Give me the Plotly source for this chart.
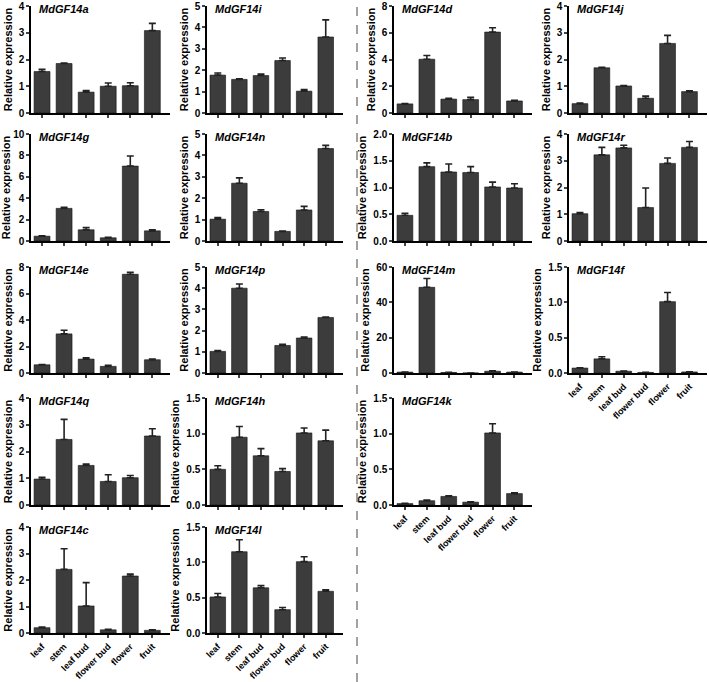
import plotly.graph_objects as go

categories = ["leaf", "stem", "leaf bud", "flower bud", "flower", "fruit"]

genes = ["MdGF14a", "MdGF14i", "MdGF14d", "MdGF14j",
         "MdGF14g", "MdGF14n", "MdGF14b", "MdGF14r",
         "MdGF14e", "MdGF14p", "MdGF14m", "MdGF14f",
         "MdGF14q", "MdGF14h", "MdGF14k",
         "MdGF14c", "MdGF14l"]

val_a = [1.55, 1.85, 0.78, 1.0, 1.02, 3.08]
err_a = [0.08, 0.02, 0.06, 0.12, 0.11, 0.27]
val_i = [1.77, 1.57, 1.75, 2.45, 1.02, 3.55]
err_i = [0.1, 0.03, 0.07, 0.12, 0.08, 0.8]
val_d = [0.68, 4.02, 1.04, 1.0, 6.05, 0.9]
err_d = [0.03, 0.28, 0.05, 0.17, 0.32, 0.05]
val_j = [0.35, 1.69, 1.01, 0.55, 2.6, 0.8]
err_j = [0.02, 0.02, 0.02, 0.08, 0.3, 0.03]
val_g = [0.45, 3.05, 1.05, 0.3, 7.0, 0.95]
err_g = [0.03, 0.1, 0.2, 0.05, 0.95, 0.1]
val_n = [1.02, 2.7, 1.38, 0.45, 1.45, 4.32]
err_n = [0.08, 0.25, 0.08, 0.02, 0.17, 0.15]
val_b = [0.48, 1.39, 1.29, 1.28, 1.01, 0.99]
err_b = [0.04, 0.07, 0.15, 0.11, 0.09, 0.08]
val_r = [1.02, 3.22, 3.48, 1.25, 2.9, 3.5]
err_r = [0.04, 0.28, 0.1, 0.73, 0.2, 0.22]
val_e = [0.62, 2.95, 1.05, 0.5, 7.45, 1.0]
err_e = [0.02, 0.28, 0.1, 0.08, 0.15, 0.05]
val_p = [1.02, 4.0, None, 1.3, 1.65, 2.62]
err_p = [0.04, 0.2, 0, 0.05, 0.05, 0.02]
val_m = [0.5, 48.5, 0.3, 0.0, 1.0, 0.5]
err_m = [0.1, 5.0, 0.1, 0.0, 0.3, 0.1]
val_f = [0.07, 0.2, 0.025, 0.008, 1.01, 0.015]
err_f = [0.005, 0.03, 0.003, 0.002, 0.13, 0.003]
val_q = [0.97, 2.45, 1.48, 0.88, 1.02, 2.58]
err_q = [0.07, 0.75, 0.05, 0.25, 0.08, 0.27]
val_h = [0.5, 0.95, 0.69, 0.47, 1.01, 0.9]
err_h = [0.05, 0.15, 0.1, 0.04, 0.07, 0.15]
val_k = [0.02, 0.06, 0.12, 0.04, 1.01, 0.16]
err_k = [0.005, 0.01, 0.01, 0.005, 0.13, 0.01]
val_c = [0.2, 2.4, 1.02, 0.12, 2.15, 0.1]
err_c = [0.02, 0.78, 0.88, 0.02, 0.07, 0.02]
val_l = [0.51, 1.15, 0.64, 0.33, 1.01, 0.59]
err_l = [0.05, 0.17, 0.03, 0.03, 0.07, 0.02]

values = [val_a, val_i, val_d, val_j, val_g, val_n, val_b, val_r,
          val_e, val_p, val_m, val_f, val_q, val_h, val_k, val_c, val_l]
errors = [err_a, err_i, err_d, err_j, err_g, err_n, err_b, err_r,
          err_e, err_p, err_m, err_f, err_q, err_h, err_k, err_c, err_l]
ymax = [4, 5, 8, 4, 10, 5, 2.0, 4, 8, 5, 60, 1.5, 4, 1.5, 1.5, 4, 1.5]
ydtick = [1, 1, 2, 1, 2, 1, 0.5, 1, 2, 1, 20, 0.5, 1, 0.5, 0.5, 1, 0.5]
yfmt = ["", "", "", "", "", "", ".1f", "", "", "", "", ".1f", "", ".1f", ".1f", "", ".1f"]
pos = [(0, 0), (0, 1), (0, 2), (0, 3),
       (1, 0), (1, 1), (1, 2), (1, 3),
       (2, 0), (2, 1), (2, 2), (2, 3),
       (3, 0), (3, 1), (3, 2),
       (4, 0), (4, 1)]
show_x = [False] * 11 + [True] + [False, False, True, True, True]

W, H = 709, 682
col_px = [(31, 170), (207, 343), (394, 532), (569, 707)]
row_px = [(6, 113), (134, 241), (267, 373), (398, 505), (527, 633)]

FONT = "Liberation Sans, Arial, sans-serif"
BAR = "#3c3c3c"

fig = go.Figure()
annotations = []
for idx, g in enumerate(genes):
    r, c = pos[idx]
    n = idx + 1
    xa = "x" if n == 1 else f"x{n}"
    ya = "y" if n == 1 else f"y{n}"
    fig.add_trace(go.Bar(
        x=list(range(6)), y=values[idx], xaxis=xa, yaxis=ya,
        width=0.72, marker=dict(color=BAR, line=dict(color="#111", width=0.6)),
        error_y=dict(type="data", symmetric=False, array=errors[idx],
                     arrayminus=[0] * 6, color="#222", thickness=1.6, width=3.5),
        showlegend=False, hoverinfo="skip", cliponaxis=False))
    x0, x1 = col_px[c]
    y0, y1 = row_px[r]
    xdom = [x0 / W, x1 / W]
    ydom = [1 - y1 / H, 1 - y0 / H]
    xkey = "xaxis" if n == 1 else f"xaxis{n}"
    ykey = "yaxis" if n == 1 else f"yaxis{n}"
    fig.layout[xkey] = dict(
        domain=xdom, anchor=ya, range=[-0.5, 5.8], automargin=False,
        tickmode="array", tickvals=list(range(6)),
        ticktext=categories if show_x[idx] else [""] * 6,
        tickangle=-45, ticks="outside", ticklen=3, tickwidth=1.5,
        showline=True, linecolor="black", linewidth=1.5,
        showgrid=False, zeroline=False,
        tickfont=dict(family=FONT, size=9, color="black", weight="bold"))
    fig.layout[ykey] = dict(
        domain=ydom, anchor=xa, range=[0, ymax[idx]], dtick=ydtick[idx],
        automargin=False,
        tickformat=yfmt[idx], ticks="outside", ticklen=3, tickwidth=1.5,
        showline=True, linecolor="black", linewidth=1.5,
        showgrid=False, zeroline=False,
        title=dict(text="Relative expression", standoff=4,
                   font=dict(family=FONT, size=11, color="black", weight="bold")),
        tickfont=dict(family=FONT, size=10, color="black", weight="bold"))
    annotations.append(dict(
        text=g, xref="paper", yref="paper",
        x=(x0 + 6) / W, y=1 - (y0 + 3) / H, xanchor="left", yanchor="middle",
        showarrow=False,
        font=dict(family=FONT, size=11, color="black", weight="bold", style="italic")))

fig.update_layout(
    width=W, height=H, margin=dict(l=0, r=0, t=0, b=0, autoexpand=False),
    plot_bgcolor="white", paper_bgcolor="white",
    annotations=annotations, bargap=0.28,
    shapes=[dict(type="line", xref="paper", yref="paper",
                 x0=357 / W, x1=357 / W, y0=0, y1=1,
                 line=dict(color="#444", width=1, dash="dash"))])

fig.write_html("out.html", config={"displayModeBar": False},
               post_script="document.body.style.margin='0';document.body.style.overflow='hidden';")
